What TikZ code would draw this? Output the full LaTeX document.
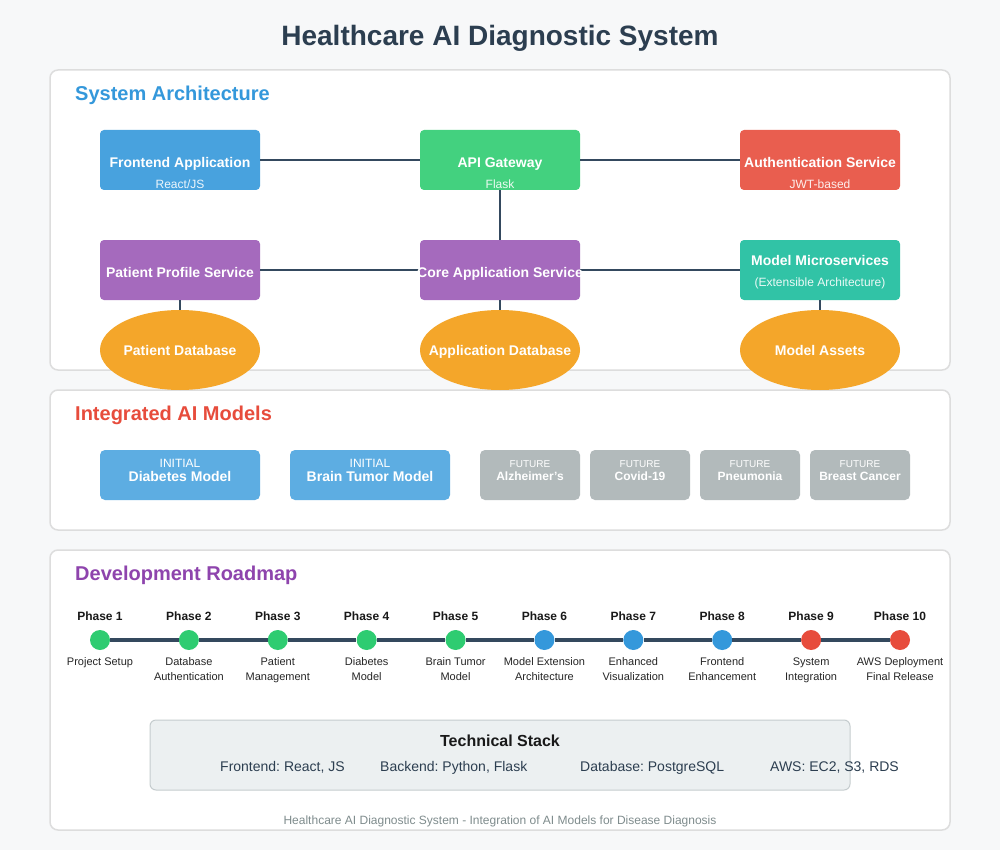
\documentclass[tikz,border=0pt]{standalone}
\usepackage{fontspec}
\setmainfont{Liberation Sans}
\usetikzlibrary{shapes.geometric}
\frenchspacing

\definecolor{ink}{HTML}{2C3E50}
\definecolor{wire}{HTML}{34495E}
\definecolor{pagebg}{HTML}{F7F8F9}
\definecolor{panelline}{HTML}{DDDDDD}
\definecolor{cblue}{HTML}{48A2DE}
\definecolor{cgreen}{HTML}{43D17F}
\definecolor{cred}{HTML}{E95E4F}
\definecolor{cpurple}{HTML}{A56ABD}
\definecolor{cteal}{HTML}{31C3A6}
\definecolor{corange}{HTML}{F4A62A}
\definecolor{mblue}{HTML}{5DADE2}
\definecolor{mgrey}{HTML}{B2BABB}
\definecolor{pgreen}{HTML}{2ECC71}
\definecolor{pblue}{HTML}{3498DB}
\definecolor{pred}{HTML}{E74C3C}
\definecolor{hpurple}{HTML}{8E44AD}
\definecolor{stackbg}{HTML}{ECF0F1}
\definecolor{stackline}{HTML}{C5CCCE}
\definecolor{footgrey}{HTML}{7F8C8D}

\newcommand\fsz[1]{\fontsize{#1}{#1}\selectfont}

\tikzset{
  panel/.style={draw=panelline, line width=1.5pt, fill=white, rounded corners=8pt},
  heading/.style={anchor=base west, inner sep=0pt, font=\fsz{20}\bfseries},
  svc/.style={rectangle, rounded corners=4pt, minimum width=160pt, minimum height=60pt, inner sep=0pt},
  store/.style={ellipse, fill=corange, minimum width=160pt, minimum height=80pt, inner sep=0pt},
  link/.style={draw=wire, line width=2pt},
  wtxt/.style={anchor=base, inner sep=0pt, text=white},
  svctitle/.style={wtxt, font=\fsz{14}\bfseries},
  svcsub/.style={wtxt, font=\fsz{12}, text opacity=0.9},
  modelbox/.style={rectangle, rounded corners=5pt, minimum height=50pt, inner sep=0pt},
  tag/.style={wtxt, font=\fsz{12}},
  phase/.style={circle, minimum size=20pt, inner sep=0pt},
  phlabel/.style={anchor=base, inner sep=0pt, font=\fsz{12}\bfseries, text=black!90},
  phdesc/.style={anchor=base, inner sep=0pt, font=\fsz{11}, text=black!85},
  stacktxt/.style={anchor=base west, inner sep=0pt, font=\fsz{14}, text=ink},
}

\begin{document}
\begin{tikzpicture}[x=1pt, y=-1pt]
  % page
  \fill[pagebg] (0,0) rectangle (1000,850);
  \useasboundingbox (0,0) rectangle (1000,850);

  \node[anchor=base, inner sep=0pt, font=\fsz{28}\bfseries, text=ink] (maintitle) at (500,46)
    {Healthcare AI Diagnostic System};

  % section panels
  \draw[panel] (50,70) rectangle (950,370);
  \draw[panel] (50,390) rectangle (950,530);
  \draw[panel] (50,550) rectangle (950,830);

  % ---------- System Architecture ----------
  \node[heading, text=pblue] (archhead) at (75,101) {System Architecture};

  \node[svc, fill=cblue]   (fe)   at (180,160) {};
  \node[svc, fill=cgreen]  (api)  at (500,160) {};
  \node[svc, fill=cred]    (auth) at (820,160) {};
  \node[svc, fill=cpurple] (pps)  at (180,270) {};
  \node[svc, fill=cpurple] (core) at (500,270) {};
  \node[svc, fill=cteal]   (mms)  at (820,270) {};

  \node[store] (pdb) at (180,350) {};
  \node[store] (adb) at (500,350) {};
  \node[store] (mas) at (820,350) {};

  \draw[link] (fe.east) -- (api.west);
  \draw[link] (api.east) -- (auth.west);
  \draw[link] (api.south) -- (core.north);
  \draw[link] (pps.east) -- (core.west);
  \draw[link] (core.east) -- (mms.west);
  \draw[link] (pps.south) -- (pdb.north);
  \draw[link] (core.south) -- (adb.north);
  \draw[link] (mms.south) -- (mas.north);

  \node[svctitle] (fet) at (180,168) {Frontend Application};
  \node[svcsub]   (fes) at (180,189) {React/JS};
  \node[svctitle] (apit) at (500,168) {API Gateway};
  \node[svcsub]   (apis) at (500,189) {Flask};
  \node[svctitle] (autht) at (820,168) {Authentication Service};
  \node[svcsub]   (auths) at (820,189) {JWT-based};
  \node[svctitle] (ppst) at (180,277) {Patient Profile Service};
  \node[svctitle] (coret) at (500,277) {Core Application Service};
  \node[svctitle] (mmst) at (820,265) {Model Microservices};
  \node[svcsub]   (mmss) at (820,286) {(Extensible Architecture)};

  \node[svctitle] (pdbt) at (180,355) {Patient Database};
  \node[svctitle] (adbt) at (500,355) {Application Database};
  \node[svctitle] (mast) at (820,355) {Model Assets};

  % ---------- Integrated AI Models ----------
  \node[heading, text=pred] (modelhead) at (75,420) {Integrated AI Models};

  \node[modelbox, fill=mblue, minimum width=160pt] (m1) at (180,475) {};
  \node[modelbox, fill=mblue, minimum width=160pt] (m2) at (370,475) {};
  \node[tag] (m1a) at (180,467) {INITIAL};
  \node[wtxt, font=\fsz{14}\bfseries] (m1b) at (180,481) {Diabetes Model};
  \node[tag] (m2a) at (370,467) {INITIAL};
  \node[wtxt, font=\fsz{14}\bfseries] (m2b) at (370,481) {Brain Tumor Model};

  \foreach \x/\nm/\lbl in {530/f1/Alzheimer's, 640/f2/Covid-19, 750/f3/Pneumonia, 860/f4/Breast Cancer}{
    \node[modelbox, fill=mgrey, minimum width=100pt] (\nm) at (\x,475) {};
    \node[wtxt, font=\fsz{10}] (\nm a) at (\x,467) {FUTURE};
    \node[wtxt, font=\fsz{12}\bfseries] (\nm b) at (\x,480) {\lbl};
  }

  % ---------- Development Roadmap ----------
  \node[heading, text=hpurple] (roadhead) at (75,580) {Development Roadmap};

  \foreach \i/\col/\la/\lb in {
      1/pgreen/Project Setup/{},
      2/pgreen/Database/Authentication,
      3/pgreen/Patient/Management,
      4/pgreen/Diabetes/Model,
      5/pgreen/Brain Tumor/Model,
      6/pblue/Model Extension/Architecture,
      7/pblue/Enhanced/Visualization,
      8/pblue/Frontend/Enhancement,
      9/pred/System/Integration,
      10/pred/AWS Deployment/Final Release}{
    \pgfmathsetmacro\px{100+(\i-1)*800/9}
    \node[phase, fill=\col] (ph\i) at (\px,640) {};
    \node[phlabel] (phl\i) at (\px,620) {Phase \i};
    \node[phdesc] (phd\i) at (\px,665) {\la};
    \node[phdesc] (phe\i) at (\px,680) {\lb};
  }
  \foreach \i [evaluate=\i as \j using int(\i+1)] in {1,...,9}{
    \draw[draw=wire, line width=4.5pt] (ph\i) -- (ph\j);
  }

  % technical stack
  \node[rectangle, rounded corners=6pt, fill=stackbg, draw=stackline, line width=1pt,
        minimum width=700pt, minimum height=70pt] (stack) at (500,755) {};
  \node[anchor=base, inner sep=0pt, font=\fsz{16}\bfseries, text=black!90] (stackt) at (500,746) {Technical Stack};
  \node[stacktxt] (s1) at (220,771) {Frontend: React, JS};
  \node[stacktxt] (s2) at (380,771) {Backend: Python, Flask};
  \node[stacktxt] (s3) at (580,771) {Database: PostgreSQL};
  \node[stacktxt] (s4) at (770,771) {AWS: EC2, S3, RDS};

  \node[anchor=base, inner sep=0pt, font=\fsz{12}, text=footgrey] (foot) at (500,824)
    {Healthcare AI Diagnostic System - Integration of AI Models for Disease Diagnosis};
\end{tikzpicture}
\end{document}
